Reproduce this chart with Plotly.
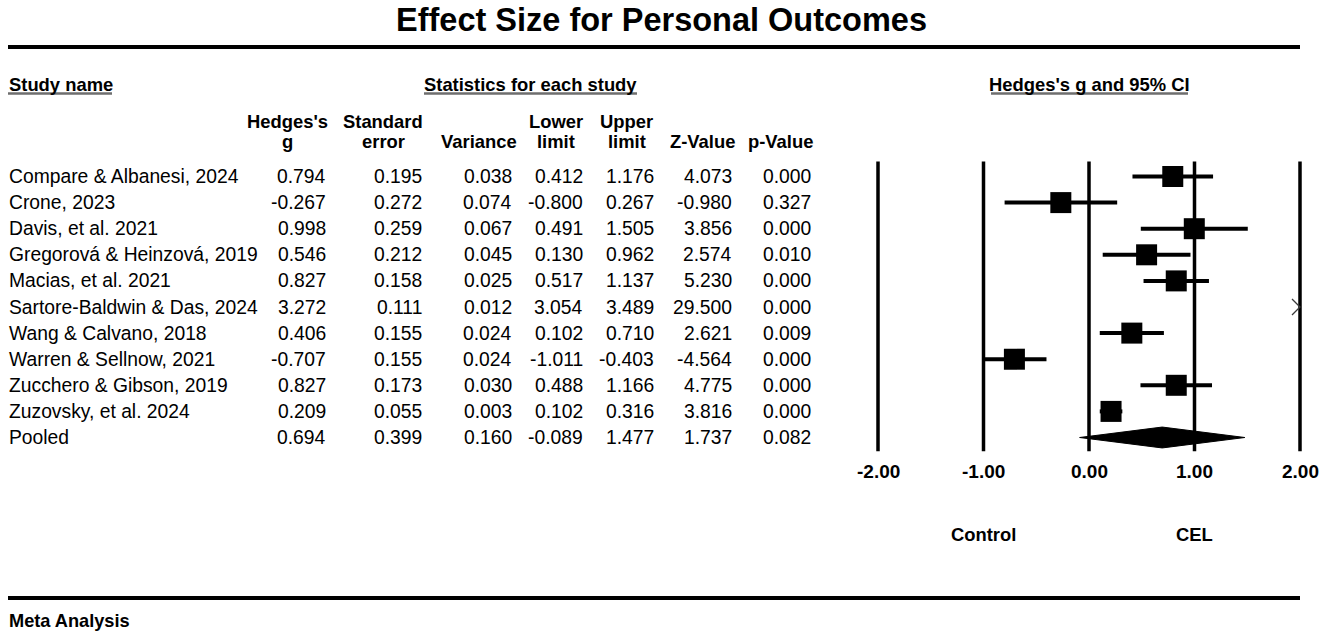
import plotly.graph_objects as go

W, H = 1325, 638

studies = ["Compare & Albanesi, 2024", "Crone, 2023", "Davis, et al. 2021",
           "Gregorová & Heinzová, 2019", "Macias, et al. 2021",
           "Sartore-Baldwin & Das, 2024", "Wang & Calvano, 2018",
           "Warren & Sellnow, 2021", "Zucchero & Gibson, 2019",
           "Zuzovsky, et al. 2024"]
hedges_g = [0.794, -0.267, 0.998, 0.546, 0.827, 3.272, 0.406, -0.707, 0.827, 0.209]
std_err = [0.195, 0.272, 0.259, 0.212, 0.158, 0.111, 0.155, 0.155, 0.173, 0.055]
variance = [0.038, 0.074, 0.067, 0.045, 0.025, 0.012, 0.024, 0.024, 0.030, 0.003]
lower = [0.412, -0.800, 0.491, 0.130, 0.517, 3.054, 0.102, -1.011, 0.488, 0.102]
upper = [1.176, 0.267, 1.505, 0.962, 1.137, 3.489, 0.710, -0.403, 1.166, 0.316]
z_value = [4.073, -0.980, 3.856, 2.574, 5.230, 29.500, 2.621, -4.564, 4.775, 3.816]
p_value = [0.000, 0.327, 0.000, 0.010, 0.000, 0.000, 0.009, 0.000, 0.000, 0.000]

pooled = {"g": 0.694, "se": 0.399, "var": 0.160, "lower": -0.089,
          "upper": 1.477, "z": 1.737, "p": 0.082}

x_ticks = [-2.0, -1.0, 0.0, 1.0, 2.0]
favours = ["Control", "CEL"]

FONT = "Liberation Sans, Arial, sans-serif"


def px(x):
    return x / W


def py(y):
    return 1 - y / H


# row i sits at pixel 176.5 + 26.1 * i
row0, row_h = 176.5, 26.1
y_range = [(H - row0) / row_h, (0 - row0) / row_h]
# forest axis: -2 at 878px, 2 at 1300px
unit = (1300 - 878) / 4.0
x_range = [-2.1, 2.1]
x_dom = [px(878 - 0.1 * unit), px(1300 + 0.1 * unit)]

fig = go.Figure()

n = len(studies)
rows = list(range(n))

# study effects with CI
fig.add_trace(go.Scatter(
    x=hedges_g, y=rows, mode="markers",
    marker=dict(symbol="square", size=21, color="black"),
    error_x=dict(type="data", symmetric=False,
                 array=[u - g for u, g in zip(upper, hedges_g)],
                 arrayminus=[g - l for g, l in zip(hedges_g, lower)],
                 thickness=4, width=0, color="black"),
    hoverinfo="skip", showlegend=False, cliponaxis=True))

# pooled diamond
half = 0.4
fig.add_trace(go.Scatter(
    x=[pooled["lower"], pooled["g"], pooled["upper"], pooled["g"], pooled["lower"]],
    y=[n, n - half, n, n + half, n],
    mode="lines", fill="toself", fillcolor="black",
    line=dict(color="black", width=1), hoverinfo="skip", showlegend=False))

# off-scale indicator (chevron at the axis edge)
cx, cy = [], []
arm_x, arm_y = 8 / unit, 8 / row_h
for i, g in enumerate(hedges_g):
    if g > x_ticks[-1]:
        e = x_ticks[-1]
        cx += [e - arm_x, e, e - arm_x, None]
        cy += [i - arm_y, i, i + arm_y, None]
    elif g < x_ticks[0]:
        e = x_ticks[0]
        cx += [e + arm_x, e, e + arm_x, None]
        cy += [i - arm_y, i, i + arm_y, None]
if cx:
    fig.add_trace(go.Scatter(x=cx, y=cy, mode="lines",
                             line=dict(color="#3a3a3a", width=1.3),
                             hoverinfo="skip", showlegend=False))

shapes = []
annotations = []

# vertical reference lines
for t in x_ticks:
    shapes.append(dict(type="line", xref="x", yref="y", x0=t, x1=t,
                       y0=-0.57, y1=n + 0.53, line=dict(color="black", width=3.5),
                       layer="below"))
    annotations.append(dict(xref="x", yref="paper", x=t, y=py(471), text=f"<b>{t:.2f}</b>",
                            showarrow=False, xanchor="center", yanchor="middle",
                            font=dict(size=19, color="black", family=FONT)))

for label, t in zip(favours, [-1.0, 1.0]):
    annotations.append(dict(xref="x", yref="paper", x=t, y=py(534), text=f"<b>{label}</b>",
                            showarrow=False, xanchor="center", yanchor="middle",
                            font=dict(size=18.4, color="black", family=FONT)))

# table
col_right = [328, 424, 514, 585, 656, 734, 813]
columns = [hedges_g, std_err, variance, lower, upper, z_value, p_value]
pooled_vals = [pooled[k] for k in ["g", "se", "var", "lower", "upper", "z", "p"]]
data_font = dict(size=19.3, color="black", family=FONT)

for i, name in enumerate(studies + ["Pooled"]):
    annotations.append(dict(xref="paper", yref="y", x=px(7), y=i, text=name,
                            showarrow=False, xanchor="left", yanchor="middle", font=data_font))
for c, (xr, vals) in enumerate(zip(col_right, columns)):
    for i, v in enumerate(vals + [pooled_vals[c]]):
        annotations.append(dict(xref="paper", yref="y", x=px(xr), y=i, text=f"{v:.3f}",
                                showarrow=False, xanchor="right", yanchor="middle",
                                font=data_font))

head_font = dict(size=18.4, color="black", family=FONT)
headers = [(287.5, "Hedges's", "g"), (383, "Standard", "error"), (478.5, "", "Variance"),
           (555.5, "Lower", "limit"), (626.5, "Upper", "limit"),
           (702.5, "", "Z-Value"), (780, "", "p-Value")]
for xc, l1, l2 in headers:
    if l1:
        annotations.append(dict(xref="paper", yref="paper", x=px(xc), y=py(121),
                                text=f"<b>{l1}</b>", showarrow=False, xanchor="center",
                                yanchor="middle", font=head_font))
    annotations.append(dict(xref="paper", yref="paper", x=px(xc), y=py(142),
                            text=f"<b>{l2}</b>", showarrow=False, xanchor="center",
                            yanchor="middle", font=head_font))

# section headers with underline
sections = [(8, 112, "left", "Study name"), (424, 637, "center", "Statistics for each study"),
            (991, 1188, "center", "Hedges's g and 95% CI")]
for x0, x1, anchor, txt in sections:
    xa = x0 - 1 if anchor == "left" else (x0 + x1) / 2
    annotations.append(dict(xref="paper", yref="paper", x=px(xa), y=py(85),
                            text=f"<b>{txt}</b>", showarrow=False, xanchor=anchor,
                            yanchor="middle", font=head_font))
    shapes.append(dict(type="line", xref="paper", yref="paper", x0=px(x0), x1=px(x1),
                       y0=py(93.5), y1=py(93.5), line=dict(color="#6e6e6e", width=2.5)))

# title, rules, footer
annotations.append(dict(xref="paper", yref="paper", x=px(661), y=py(20),
                        text="<b>Effect Size for Personal Outcomes</b>", showarrow=False,
                        xanchor="center", yanchor="middle",
                        font=dict(size=32.5, color="black", family=FONT)))
for yy in [47, 598]:
    shapes.append(dict(type="line", xref="paper", yref="paper", x0=px(8), x1=px(1300),
                       y0=py(yy), y1=py(yy), line=dict(color="black", width=4)))
annotations.append(dict(xref="paper", yref="paper", x=px(7), y=py(621),
                        text="<b>Meta Analysis</b>", showarrow=False, xanchor="left",
                        yanchor="middle", font=dict(size=18.2, color="black", family=FONT)))

fig.update_layout(
    width=W, height=H,
    margin=dict(l=0, r=0, t=0, b=0),
    paper_bgcolor="white", plot_bgcolor="white",
    xaxis=dict(range=x_range, domain=x_dom, visible=False, fixedrange=True),
    yaxis=dict(range=y_range, domain=[0, 1], visible=False, fixedrange=True),
    shapes=shapes, annotations=annotations,
    showlegend=False,
)

fig.write_html("out.html", config={"displayModeBar": False},
               post_script="document.body.style.margin='0px';")
